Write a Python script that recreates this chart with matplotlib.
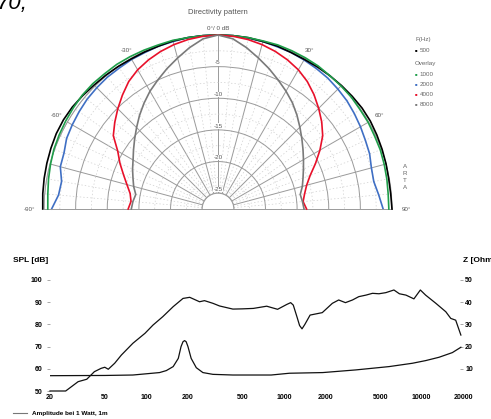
import numpy as np
import matplotlib
matplotlib.use('Agg')
import matplotlib.pyplot as plt
from matplotlib.lines import Line2D
from matplotlib.ticker import NullLocator

plt.rcParams['font.family'] = ['Liberation Sans', 'DejaVu Sans']

# directivity data, angle in degrees, level in dB rel. 0 deg
angles = list(range(-90, 95, 5))
db_500 = [0.2, 0.3, 0.4, 0.5, 0.6, 0.7, 0.7, 0.6, 0.4, 0.2, 0.1, 0.0, -0.1, -0.1, -0.1, 0.0, 0.0, 0.0, 0.0,
          0.0, 0.0, -0.1, -0.1, -0.2, -0.2, -0.1, 0.0, 0.1, 0.2, 0.3, 0.3, 0.2, 0.1, 0.0, -0.1, -0.1, 0.0]
db_1000 = [-0.6, -0.5, -0.3, -0.1, 0.1, 0.2, 0.3, 0.4, 0.5, 0.5, 0.4, 0.4, 0.3, 0.2, 0.1, 0.1, 0.0, 0.0, 0.0,
           0.0, 0.0, 0.0, 0.1, 0.1, 0.1, 0.1, 0.0, 0.0, 0.0, -0.1, -0.1, -0.2, -0.2, -0.3, -0.4, -0.5, -0.5]
db_2000 = [-1.2, -2.2, -2.4, -1.7, -1.6, -1.1, -0.9, -0.7, -0.5, -0.4, -0.3, -0.3, -0.2, -0.2, -0.1, -0.1, 0.0, 0.0, 0.0,
           0.0, -0.1, -0.1, -0.2, -0.2, -0.3, -0.4, -0.5, -0.7, -0.9, -1.2, -1.5, -1.8, -2.0, -2.4, -2.5, -2.0, -1.4]
db_4000 = [-13.3, -13.7, -13.4, -12.6, -11.6, -10.4, -9.2, -7.3, -6.2, -5.1, -4.0, -2.9, -2.1, -1.5, -1.0, -0.6, -0.3, -0.1, 0.0,
           -0.1, -0.3, -0.6, -1.0, -1.5, -2.1, -2.9, -3.9, -5.0, -6.1, -7.3, -8.9, -10.5, -12.0, -13.0, -13.6, -14.0, -13.5]
db_8000 = [-13.8, -14.0, -14.3, -13.7, -13.2, -12.6, -12.0, -11.2, -10.3, -9.3, -8.2, -7.1, -6.0, -5.0, -3.9, -2.8, -1.6, -0.5, 0.0,
           -0.5, -1.6, -2.8, -3.9, -5.0, -6.0, -7.0, -8.1, -9.2, -10.2, -11.1, -11.9, -12.6, -13.2, -13.7, -14.3, -14.1, -13.9]
series = [('500', db_500, 'black'), ('1000', db_1000, '#1f9e4a'), ('2000', db_2000, '#3f6fc4'),
          ('4000', db_4000, '#e8102a'), ('8000', db_8000, '#7a7a7a')]
draw_order = {'500': 3, '1000': 4, '2000': 2, '4000': 5, '8000': 5}

# frequency response
spl_freq = [20, 26, 32, 37, 42, 47, 50, 53, 59, 66, 80, 98, 112, 132, 157, 185, 207, 244, 265, 305, 341, 426,
            500, 600, 750, 900, 1050, 1120, 1170, 1250, 1300, 1354, 1420, 1550, 1900, 2250, 2500, 2800, 3150,
            3500, 3950, 4400, 4900, 5500, 6300, 6900, 7700, 8800, 9800, 10700, 12700, 15000, 16300, 17700, 19300]
spl_db = [50, 50, 54.2, 55.3, 58.7, 60.2, 60.7, 59.8, 62.5, 66.2, 71.5, 76, 79.7, 83.5, 88, 91.7, 92.2, 90.2,
          90.7, 89.5, 88.3, 86.9, 87.0, 87.2, 88.2, 86.8, 89.0, 89.8, 88.7, 83.0, 79.5, 78.0, 80.0, 84.2, 85.3,
          89.5, 91.0, 89.8, 91.0, 92.5, 93.2, 94.0, 93.8, 94.3, 95.5, 93.8, 93.2, 91.5, 95.5, 93.2, 89.5, 85.7,
          82.7, 81.9, 75.2]
z_freq = [20, 50, 80, 98, 125, 140, 157, 171, 179, 185, 190, 195, 201, 212, 231, 258, 305, 426, 808, 1096,
          1914, 3334, 5820, 8590, 10720, 13400, 16740, 19300]
z_ohm = [6.9, 7.0, 7.2, 7.7, 8.3, 9.2, 11, 14.7, 20, 22.2, 22.7, 22.2, 20, 14.7, 10.5, 8.3, 7.5, 7.2, 7.2, 8,
         8.3, 9.5, 11, 12.5, 13.7, 15.2, 17.3, 19.7]
x_ticks = [20, 50, 100, 200, 500, 1000, 2000, 5000, 10000, 20000]


def fx(x):
    return x / 491


def fy(y):
    return 1 - y / 419


fig = plt.figure(figsize=(4.91, 4.19), dpi=100)

# ---- polar plot (square box, the half disc sits in its middle)
R = 174
cx, cy = 218, 209
pol = fig.add_axes([(cx - R) / 491, (419 - (cy - R / 2 + R)) / 419, 2 * R / 491, 2 * R / 419],
                   projection='polar')
pol.set_theta_zero_location('N')
pol.set_theta_direction(-1)
pol.set_thetamin(-90)
pol.set_thetamax(90)
pol.set_rorigin(-27.5)
pol.set_rlim(-25, 0)
pol.set_xticks(np.deg2rad(np.arange(-90, 91, 15)))
pol.set_xticks(np.deg2rad(np.arange(-90, 91, 5)), minor=True)
pol.set_xticklabels([])
pol.set_yticks([-25, -20, -15, -10, -5, 0])
pol.set_yticks(np.arange(-22.5, 0, 5), minor=True)
pol.set_yticklabels([])
pol.grid(True, which='major', color='#9a9a9a', lw=0.7, ls='-')
pol.grid(True, which='minor', color='#cfcfcf', lw=0.5, ls=(0, (2, 3)))
pol.tick_params(which='both', length=0)
for s in pol.spines.values():
    s.set_color('#9a9a9a')
    s.set_linewidth(0.7)
# baseline through the hole
pol.plot(np.deg2rad([-90, -90, 90, 90]), [-25, -27.5, -27.5, -25], color='#9a9a9a', lw=0.7, clip_on=False)

for name, db, c in series:
    pol.plot(np.deg2rad(angles), db, color=c, lw=1.2, clip_on=False, zorder=draw_order[name])

lab = dict(ha='center', va='center', fontsize=4.5, color='#555555', clip_on=False)
pol.text(0, 1.0, '0°/ 0 dB', **lab)
for a in [-30, 30]:
    pol.text(np.deg2rad(a), 1.5, '%d°' % a, **lab)
for a in [-60, 60]:
    pol.text(np.deg2rad(a), 2.0, '%d°' % a, **lab)
for a in [-90, 90]:
    pol.text(np.deg2rad(a), 2.3, '%d°' % a, **lab)
for v in [-5, -10, -15, -20, -25]:
    pol.text(0, v + 0.6, str(v), bbox=dict(fc='white', ec='none', pad=0.2), **lab)

fig.text(fx(218), fy(12), 'Directivity pattern', ha='center', va='center', fontsize=5.5, color='#555555')
fig.text(fx(405), fy(177), 'A\nR\nT\nA', ha='center', va='center', fontsize=4.5, color='#666666', linespacing=1.5)

# legend of the polar plot
leg = dict(ha='left', va='center', fontsize=4.5, color='#666666')
fig.text(fx(415), fy(39), 'F(Hz)', **leg)
fig.text(fx(415), fy(63), 'Overlay', **leg)
for (name, db, c), y in zip(series, [50, 74, 84, 94, 104]):
    fig.text(fx(415), fy(y), '■', ha='left', va='center', fontsize=3, color=c)
    fig.text(fx(419.5), fy(y), name, **leg)

fig.text(-3 / 491, fy(9), '70,', fontsize=16, style='italic', ha='left', va='baseline')

# ---- frequency response
ax = fig.add_axes([50 / 491, 28 / 419, 413 / 491, 111 / 419])
ax.set_xscale('log')
ax.set_xlim(20, 20000)
ax.set_ylim(50, 100)
ax.plot(spl_freq, spl_db, color='#111111', lw=0.9, clip_on=False)
ax.set_xticks(x_ticks)
ax.set_xticklabels([str(v) for v in x_ticks])
ax.xaxis.set_minor_locator(NullLocator())
ax.set_yticks([50, 60, 70, 80, 90, 100])
ax.tick_params(axis='x', length=0, pad=2, labelsize=5)
ax.tick_params(axis='y', length=2, width=0.6, color='#999999', pad=3.5, labelsize=5)
ax.patch.set_visible(False)
for s in ax.spines.values():
    s.set_visible(False)

zx = ax.twinx()
zx.set_ylim(0, 50)
zx.plot(z_freq, z_ohm, color='#111111', lw=0.9)
zx.set_yticks([10, 20, 30, 40, 50])
zx.tick_params(axis='y', length=2, width=0.6, color='#999999', direction='in', pad=1.5, labelsize=5)
for s in zx.spines.values():
    s.set_visible(False)

for t in ax.get_xticklabels() + ax.get_yticklabels() + zx.get_yticklabels():
    t.set_fontweight('bold')

fig.text(fx(13), fy(260), 'SPL [dB]', ha='left', va='center', fontsize=6, fontweight='bold')
fig.text(fx(463), fy(260), 'Z [Ohm]', ha='left', va='center', fontsize=6, fontweight='bold')
fig.add_artist(Line2D([fx(13), fx(27)], [fy(413), fy(413)], color='#777777', lw=0.8, transform=fig.transFigure))
fig.text(fx(32), fy(413), 'Amplitude bei 1 Watt, 1m', ha='left', va='center', fontsize=4.6, fontweight='bold')

fig.savefig('out.png', dpi=100)
